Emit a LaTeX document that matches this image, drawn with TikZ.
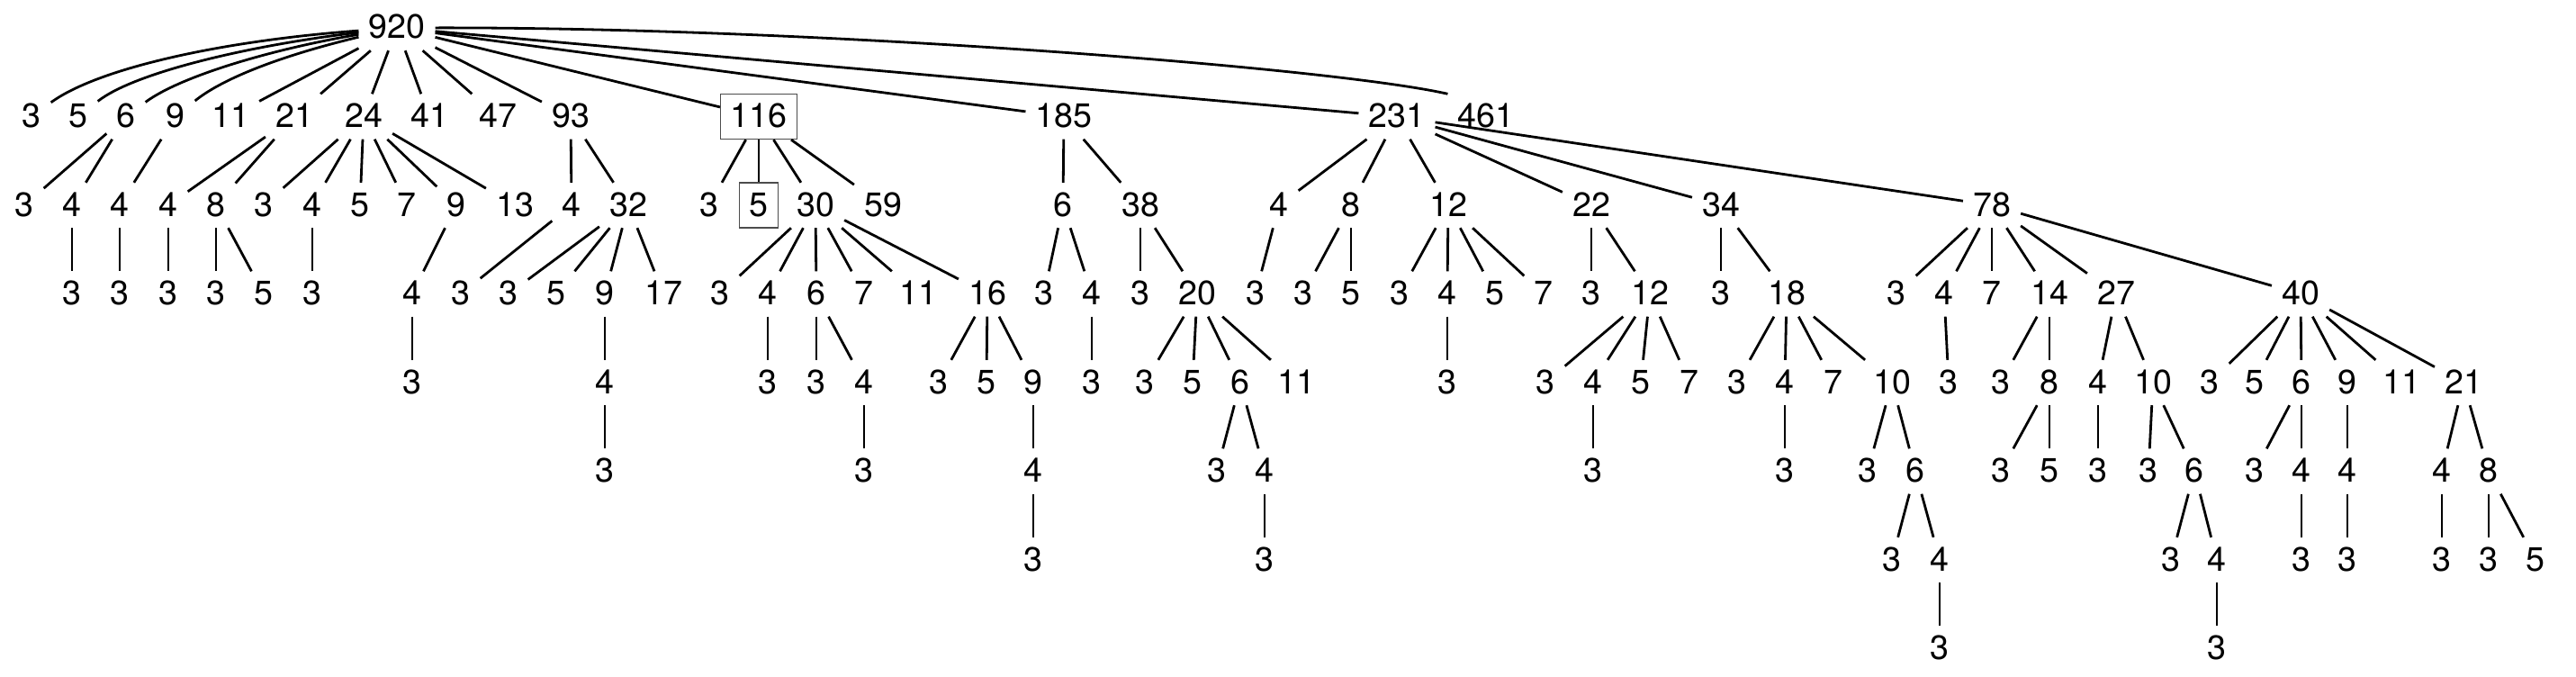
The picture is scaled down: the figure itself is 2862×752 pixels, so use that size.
\documentclass[tikz,border=0pt]{standalone}
\usepackage{fontspec}
\setmainfont{TeX Gyre Heros}
\begin{document}
\begin{tikzpicture}[x=1pt,y=-1pt,
  n/.style={anchor=base, inner xsep=11pt, inner ysep=10pt, text height=27pt, text depth=3pt, font=\fontsize{37.6pt}{40pt}\selectfont},
  bx/.style={n, draw=black!70, line width=1.5pt},
  edge/.style={line width=2.8pt}]
\useasboundingbox (0,0) rectangle (2862,752);
% row 0
\node[n] (r) at (441,43) {920};
% row 1
\foreach \nm/\x/\t in {a1/35/3, a2/87/5, a3/140/6, a4/195/9, a5/256/11, a6/327/21, a7/404/24, a8/477/41, a9/553/47, a10/634/93, a12/1182/185, a13/1552/231, a14/1651/461}
  \node[n] (\nm) at (\x,141.5) {\t};
\node[bx] (a11) at (843,141.5) {116};
% row 2
\foreach \nm/\x/\t in {b1/27/3, b2/80/4, b3/133/4, b4/187/4, b5/240/8, b6/293/3, b7/347/4, b8/400/5, b9/452/7, b10/507/9, b11/572/13, b12/635/4, b13/698/32, b14/788/3, b16/906/30, b17/981/59, b18/1181/6, b19/1267/38, b20/1421/4, b21/1501/8, b22/1609/12, b23/1768/22, b24/1912/34, b25/2213/78}
  \node[n] (\nm) at (\x,240) {\t};
\node[bx] (b15) at (843,240) {5};
% row 3
\foreach \nm/\x/\t in {c1/80/3, c2/133/3, c3/187/3, c4/240/3, c5/293/5, c6/347/3, c7/458/4, c8/512/3, c9/565/3, c10/618/5, c11/672/9, c12/737/17, c13/800/3, c14/853/4, c15/907/6, c16/960/7, c17/1020/11, c18/1097/16, c19/1160/3, c20/1213/4, c21/1267/3, c22/1330/20, c23/1395/3, c24/1448/3, c25/1501/5, c26/1555/3, c27/1608/4, c28/1661/5, c29/1715/7, c30/1768/3, c31/1833/12, c32/1912/3, c33/1985/18, c34/2107/3, c35/2160/4, c36/2213/7, c37/2277/14, c38/2351/27, c39/2556/40}
  \node[n] (\nm) at (\x,338.5) {\t};
% row 4
\foreach \nm/\x/\t in {d1/458/3, d2/672/4, d3/853/3, d4/907/3, d5/960/4, d6/1043/3, d7/1096/5, d8/1148/9, d9/1213/3, d10/1272/3, d11/1325/5, d12/1378/6, d13/1440/11, d14/1608/3, d15/1717/3, d16/1770/4, d17/1823/5, d18/1877/7, d19/1930/3, d20/1983/4, d21/2037/7, d22/2102/10, d23/2165/3, d24/2223/3, d25/2277/8, d26/2331/4, d27/2392/10, d28/2455/3, d29/2505/5, d30/2557/6, d31/2608/9, d32/2668/11, d33/2737/21}
  \node[n] (\nm) at (\x,437) {\t};
% row 5
\foreach \nm/\x/\t in {e1/672/3, e2/960/3, e3/1148/4, e4/1352/3, e5/1405/4, e6/1770/3, e7/1983/3, e8/2075/3, e9/2128/6, e10/2223/3, e11/2277/5, e12/2331/3, e13/2387/3, e14/2438/6, e15/2505/3, e16/2557/4, e17/2608/4, e18/2713/4, e19/2765/8}
  \node[n] (\nm) at (\x,535.5) {\t};
% row 6
\foreach \nm/\x/\t in {f1/1148/3, f2/1405/3, f3/2102/3, f4/2155/4, f5/2412/3, f6/2463/4, f7/2557/3, f8/2608/3, f9/2713/3, f10/2765/3, f11/2817/5}
  \node[n] (\nm) at (\x,634) {\t};
% row 7
\node[n] (g1) at (2155,732.5) {3};
\node[n] (g2) at (2463,732.5) {3};
% curved root edges
\draw[edge] (r) .. controls (250,45) and (110,75) .. (a1);
\draw[edge] (r) .. controls (280,50) and (150,80) .. (a2);
\draw[edge] (r) .. controls (300,55) and (200,85) .. (a3);
\draw[edge] (r) .. controls (320,60) and (250,85) .. (a4);
\draw[edge] (r) .. controls (900,30) and (1480,75) .. (a14.north west);
% straight edges
\foreach \p/\c in {r/a5, r/a6, r/a7, r/a8, r/a9, r/a10, r/a11, r/a12, r/a13,
  a3/b1, a3/b2, a4/b3, a6/b4, a6/b5, a7/b6, a7/b7, a7/b8, a7/b9, a7/b10, a7/b11,
  a10/b12, a10/b13, a11/b14, a11/b15, a11/b16, a11/b17, a12/b18, a12/b19,
  a13/b20, a13/b21, a13/b22, a13/b23, a13/b24, a13/b25,
  b2/c1, b3/c2, b4/c3, b5/c4, b5/c5, b7/c6, b10/c7, b12/c8, b13/c9, b13/c10, b13/c11, b13/c12,
  b16/c13, b16/c14, b16/c15, b16/c16, b16/c17, b16/c18, b18/c19, b18/c20, b19/c21, b19/c22,
  b20/c23, b21/c24, b21/c25, b22/c26, b22/c27, b22/c28, b22/c29, b23/c30, b23/c31,
  b24/c32, b24/c33, b25/c34, b25/c35, b25/c36, b25/c37, b25/c38, b25/c39,
  c7/d1, c11/d2, c14/d3, c15/d4, c15/d5, c18/d6, c18/d7, c18/d8, c20/d9,
  c22/d10, c22/d11, c22/d12, c22/d13, c27/d14, c31/d15, c31/d16, c31/d17, c31/d18,
  c33/d19, c33/d20, c33/d21, c33/d22, c35/d23, c37/d24, c37/d25, c38/d26, c38/d27,
  c39/d28, c39/d29, c39/d30, c39/d31, c39/d32, c39/d33,
  d2/e1, d5/e2, d8/e3, d12/e4, d12/e5, d16/e6, d20/e7, d22/e8, d22/e9, d25/e10, d25/e11,
  d26/e12, d27/e13, d27/e14, d30/e15, d30/e16, d31/e17, d33/e18, d33/e19,
  e3/f1, e5/f2, e9/f3, e9/f4, e14/f5, e14/f6, e16/f7, e17/f8, e18/f9, e19/f10, e19/f11,
  f4/g1, f6/g2}
  \draw[edge] (\p) -- (\c);
\end{tikzpicture}
\end{document}
